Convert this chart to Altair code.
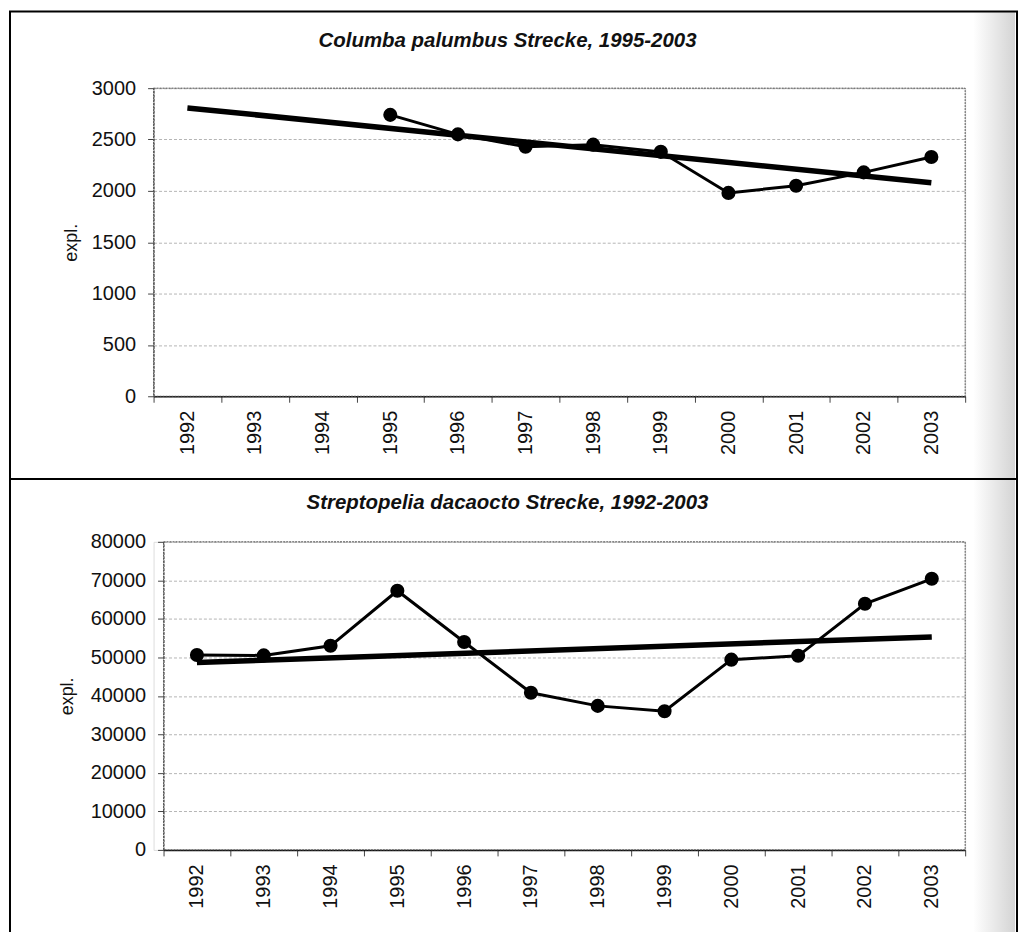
import altair as alt
import pandas as pd

years = list(range(1992, 2004))

columba_years = [1995, 1996, 1997, 1998, 1999, 2000, 2001, 2002, 2003]
columba_values = [2740, 2550, 2430, 2450, 2380, 1980, 2050, 2180, 2330]

strepto_years = years
strepto_values = [50600, 50500, 53000, 67300, 54000, 40800, 37400, 36000, 49400, 50400, 63900, 70400]

title_top = "Columba palumbus Strecke, 1995-2003"
title_bottom = "Streptopelia dacaocto Strecke, 1992-2003"
y_title = "expl."
top_ticks = [0, 500, 1000, 1500, 2000, 2500, 3000]
bottom_ticks = [0, 10000, 20000, 30000, 40000, 50000, 60000, 70000, 80000]

FONT = "Liberation Sans"

df_top = pd.DataFrame({"year": columba_years, "value": columba_values})
df_bot = pd.DataFrame({"year": strepto_years, "value": strepto_values})
one = pd.DataFrame({"a": [0]})

shade = alt.Gradient(
    gradient="linear",
    stops=[alt.GradientStop(color="#ffffff", offset=0),
           alt.GradientStop(color="#d4d4d4", offset=1)],
    x1=0, x2=1, y1=0, y2=0,
)

W = 814
H = 309


def panel(df, ticks, ymax, xo, top, bottom, title, ytitle_x, title_off):
    left, right = -144, 866
    xenc = alt.X(
        "year:O",
        bandPosition=0.5,
        scale=alt.Scale(type="band", domain=years, range=[xo, W],
                        paddingInner=0, paddingOuter=0),
        axis=alt.Axis(
            title=None, labelAngle=-90, tickBand="extent", labelFontSize=20,
            labelFont=FONT, labelColor="#111", labelPadding=8, tickSize=6,
            tickColor="#444", domainColor="#111", domainWidth=1.5, grid=False,
            labelBaseline="middle", labelAlign="right",
        ),
    )
    yenc = alt.Y(
        "value:Q",
        scale=alt.Scale(domain=[0, ymax], nice=False),
        axis=alt.Axis(
            values=ticks, format="d", offset=-xo,
            title=y_title, titleFont=FONT, titleFontSize=18,
            titleFontWeight="normal", titleColor="#111", titleAngle=-90,
            titleX=ytitle_x, titleY=H / 2, titleBaseline="middle",
            titleAlign="center",
            labelFont=FONT, labelFontSize=20, labelColor="#111", labelPadding=12,
            tickSize=6, tickColor="#444", domainColor="#333", domainDash=[3, 1],
            gridColor="#b5b5b5", gridDash=[3, 2], gridWidth=1,
        ),
    )
    base = alt.Chart(df)
    data_line = base.mark_line(color="black", strokeWidth=3).encode(x=xenc, y=yenc)
    trend = base.transform_regression(
        "year", "value", method="linear", extent=[1992, 2003]
    ).mark_line(color="black", strokeWidth=5.5).encode(x=xenc, y=yenc)
    pts = base.mark_circle(color="black", size=200, opacity=1).encode(x=xenc, y=yenc)

    shadow = alt.Chart(one).mark_rect(fill=shade, strokeWidth=0).encode(
        x=alt.value(right - 44), x2=alt.value(right - 2),
        y=alt.value(top), y2=alt.value(bottom),
    )
    plot_border = alt.Chart(one).mark_rect(
        filled=False, stroke="#555", strokeWidth=1, strokeDash=[2, 1]
    ).encode(
        x=alt.value(xo), x2=alt.value(W), y=alt.value(0), y2=alt.value(H),
    )
    frame = alt.Chart(one).mark_rect(filled=False, stroke="black", strokeWidth=2).encode(
        x=alt.value(left), x2=alt.value(right),
        y=alt.value(top), y2=alt.value(bottom),
    )
    return alt.layer(shadow, frame, plot_border, data_line, trend, pts).properties(
        width=W, height=H,
        title=alt.Title(
            title, font=FONT, fontSize=20.5, fontStyle="italic", fontWeight="bold",
            color="#111", anchor="middle", frame="group", dx=-52,
            offset=title_off, baseline="alphabetic",
        ),
    )


top = panel(df_top, top_ticks, 3000, 0, -77, 392, title_top, -82, -57)
bottom = panel(df_bot, bottom_ticks, 80000, 10, -63, 410, title_bottom, -96, -52)

chart = alt.concat(top, bottom, columns=1, spacing=146).properties(
    bounds="flush", padding=0
).configure_view(stroke=None).configure(background="white")

chart.save("out.html", embed_options={"renderer": "svg", "actions": False})
